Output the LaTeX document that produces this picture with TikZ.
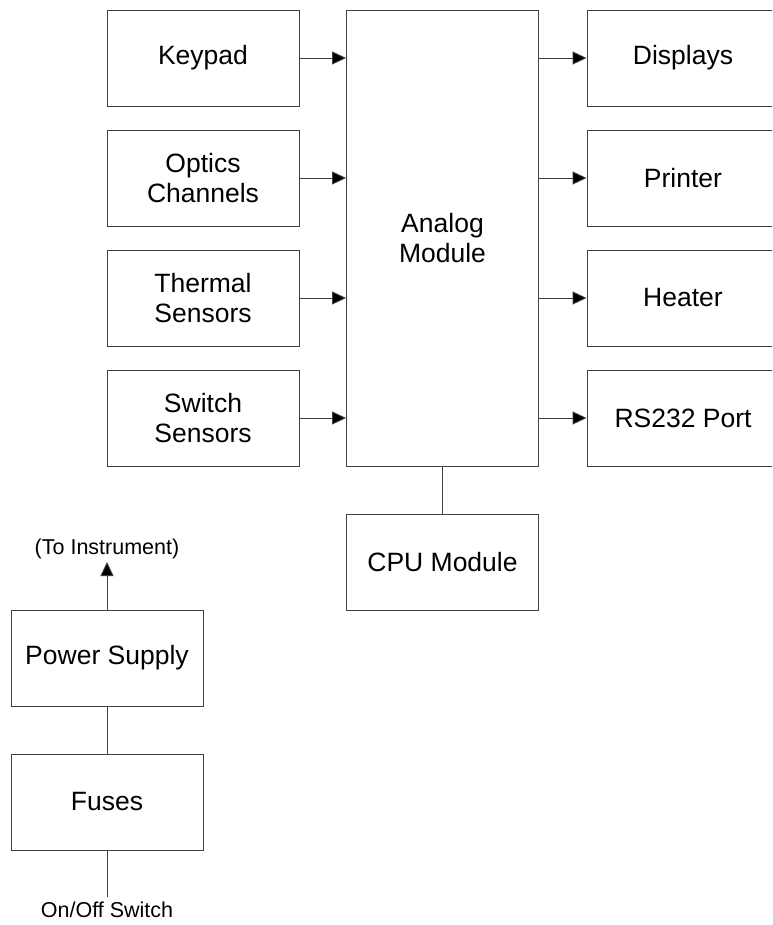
\documentclass[tikz,border=0pt]{standalone}
\usepackage{fontspec}
\setmainfont{Liberation Sans}
\usetikzlibrary{arrows.meta}
\begin{document}
\begin{tikzpicture}[x=1pt,y=-1pt,
  blk/.style={draw=black!75, line width=0.9pt, minimum width=192pt, minimum height=96pt, inner sep=0pt, align=center, font=\fontsize{26.5}{30}\selectfont},
  lbl/.style={inner sep=0pt, font=\fontsize{21.5}{24}\selectfont},
  con/.style={draw=black!75, line width=0.9pt},
  arr/.style={con, -{Triangle[length=14pt,width=13pt,fill=black]}}]
\useasboundingbox (0,0) rectangle (772,925);
\clip (0,0) rectangle (772,925);
% left column
\node[blk] (keypad) at (203,58) {Keypad};
\node[blk] (optics) at (203,178) {Optics\\Channels};
\node[blk] (thermal) at (203,298) {Thermal\\Sensors};
\node[blk] (switch) at (203,418) {Switch\\Sensors};
% analog
\node[blk, minimum height=456pt] (analog) at (442.5,238) {Analog\\Module};
% right column
\node[blk] (displays) at (683,58) {Displays};
\node[blk] (printer) at (683,178) {Printer};
\node[blk] (heater) at (683,298) {Heater};
\node[blk] (rs232) at (683,418) {RS232 Port};
% cpu
\node[blk] (cpu) at (442.5,562) {CPU Module};
% power
\node[blk] (ps) at (107,658) {Power Supply};
\node[blk] (fuses) at (107,802) {Fuses};
\coordinate (toinst) at (107,562);
\node[lbl] (toinstlbl) at (107,549) {(To Instrument)};
\coordinate (onoff) at (107,897);
\node[lbl] (onofflbl) at (107,910) {On/Off Switch};
% connectors
\draw[arr] (keypad.east) -- (keypad.east -| analog.west);
\draw[arr] (optics.east) -- (optics.east -| analog.west);
\draw[arr] (thermal.east) -- (thermal.east -| analog.west);
\draw[arr] (switch.east) -- (switch.east -| analog.west);
\draw[arr] (displays.west -| analog.east) -- (displays.west);
\draw[arr] (printer.west -| analog.east) -- (printer.west);
\draw[arr] (heater.west -| analog.east) -- (heater.west);
\draw[arr] (rs232.west -| analog.east) -- (rs232.west);
\draw[con] (analog.south) -- (cpu.north);
\draw[arr] (ps.north) -- (toinst);
\draw[con] (fuses.north) -- (ps.south);
\draw[con] (fuses.south) -- (onoff);
\end{tikzpicture}
\end{document}
